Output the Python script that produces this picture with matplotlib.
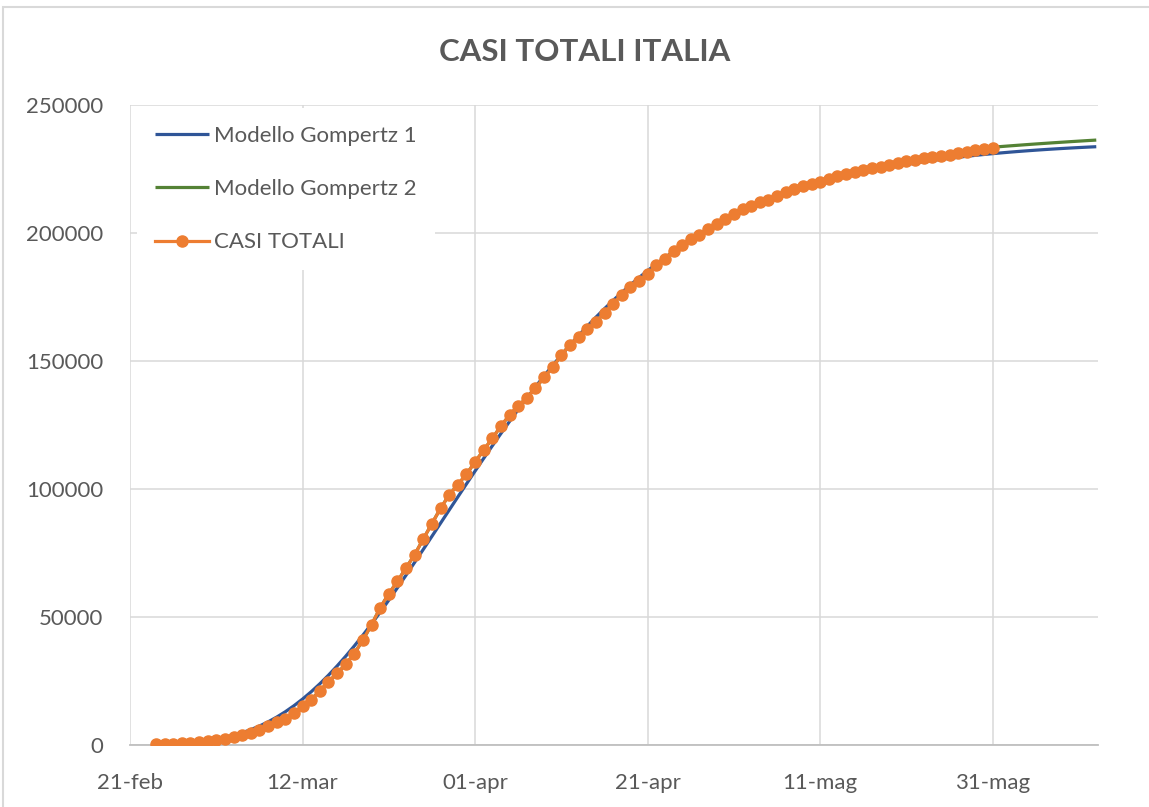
import numpy as np
import matplotlib
matplotlib.use("Agg")
import matplotlib.pyplot as plt
from matplotlib.patches import Rectangle

# x positions are day offsets from 21-feb-2020
casi_start = 3
casi_totali = [229, 322, 400, 650, 888, 1128,
    1694, 2036, 2502, 3089, 3858, 4636, 5883, 7375, 9172, 10149, 12462, 15113, 17660, 21157, 24747,
    27980, 31506, 35713, 41035, 47021, 53578, 59138, 63927, 69176, 74386, 80539, 86498, 92472, 97689,
    101739, 105792,
    110574, 115242, 119827, 124632, 128948, 132547, 135586, 139422, 143626, 147577, 152271, 156363,
    159516, 162488, 165155, 168941, 172434, 175925, 178972, 181228, 183957, 187327, 189973, 192994,
    195351, 197675, 199414, 201505, 203591, 205463,
    207428, 209328, 210717, 211938, 213013, 214457, 215858, 217185, 218268, 219070, 219814, 221216,
    222104, 223096, 223885, 224760, 225435, 225886, 226699, 227364, 228006, 228658, 229327, 229858,
    230158, 230555, 231139, 231732, 232248, 232664, 233019]

model_start = 3
gomp1 = [209, 313, 457, 654, 916, 1260, 1700, 2256, 2945, 3786, 4798, 5998, 7403, 9028, 10885, 12984,
    15333, 17934, 20790, 23897, 27249, 30840, 34657, 38686, 42913, 47320, 51888, 56597, 61428, 66358,
    71368, 76436, 81544, 86671, 91798, 96910, 101989, 107021, 111991, 116888, 121700, 126418, 131033,
    135538, 139926, 144193, 148334, 152347, 156230, 159981, 163599, 167084, 170438, 173662, 176757,
    179724, 182568, 185289, 187892, 190379, 192754, 195020, 197181, 199239, 201199, 203065, 204840,
    206527, 208130, 209653, 211099, 212471, 213772, 215006, 216177, 217285, 218336, 219331, 220273,
    221165, 222009, 222808, 223563, 224278, 224954, 225593, 226197, 226768, 227307, 227817, 228298,
    228753, 229183, 229589, 229972, 230334, 230675, 230998, 231302, 231590, 231861, 232117, 232359,
    232587, 232802, 233005, 233196, 233377, 233547, 233708]

gomp2 = [200, 300, 400, 700, 900, 1100, 1700, 2000, 2500, 3100, 3900, 4600, 5900, 7400, 9200, 10100,
    12500, 15100, 17700, 21200, 24700, 28000, 31500, 35700, 41000, 47000, 53600, 59100, 63900, 69200,
    74400, 80500, 86500, 92500, 97700, 101700, 105800, 110600, 115200, 119800, 124600, 128900, 132500,
    135600, 139400, 143600, 147600, 152300, 156400, 159500, 162500, 165200, 168900, 172400, 175900,
    179000, 181200, 184000, 187300, 190000, 193000, 195400, 197700, 199400, 201500, 203600, 205500,
    207400, 209300, 210700, 211900, 213000, 214500, 215900, 217200, 218300, 219100, 219800, 221200,
    222100, 223100, 223900, 224800, 225400, 225900, 226700, 227400, 228000, 228700, 229300, 229900,
    230200, 230600, 231100, 231700, 232300, 232900, 233500, 233780, 234040, 234290, 234540, 234780,
    235010, 235240, 235460, 235680, 235890, 236100, 236300]

x_ticks = [0, 20, 40, 60, 80, 100]
x_labels = ["21-feb", "12-mar", "01-apr", "21-apr", "11-mag", "31-mag"]
y_ticks = [0, 50000, 100000, 150000, 200000, 250000]

plt.rcParams['font.family'] = ['Lato', 'DejaVu Sans']
W, H = 1149, 807
fig = plt.figure(figsize=(W/100, H/100), dpi=100)
ax = fig.add_axes([130/W, 1-745/H, (1098-130)/W, (745-105)/H])

x_casi = np.arange(casi_start, casi_start+len(casi_totali))
x_g1 = np.arange(model_start, model_start+len(gomp1))
x_g2 = np.arange(model_start, model_start+len(gomp2))

l1, = ax.plot(x_g1, gomp1, color='#2F5597', lw=2.3, solid_capstyle='butt', zorder=3,
              label='Modello Gompertz 1')
l2, = ax.plot(x_g2, gomp2, color='#548235', lw=2.3, solid_capstyle='butt', zorder=4,
              label='Modello Gompertz 2')
l3, = ax.plot(x_casi, casi_totali, color='#ED7D31', lw=2.3, marker='o', ms=8, mec='#ED7D31',
              mfc='#ED7D31', zorder=5, label='CASI TOTALI')

ax.set_xlim(0, 112.2)
ax.set_ylim(0, 250000)
ax.set_xticks(x_ticks)
ax.set_xticklabels(x_labels)
ax.set_yticks(y_ticks)
ax.set_yticklabels([str(v) for v in y_ticks])
ax.grid(True, color='#d9d9d9', lw=1.1)
ax.set_axisbelow(True)
for s in ['top', 'right', 'left']:
    ax.spines[s].set_visible(False)
ax.spines['bottom'].set_color('#bfbfbf')
ax.spines['bottom'].set_linewidth(1.3)
ax.tick_params(axis='both', length=0, labelsize=16, labelcolor='#595959')
ax.tick_params(axis='y', pad=19)
ax.tick_params(axis='x', pad=20)

leg = fig.legend(handles=[l1, l2, l3], loc='upper left', bbox_to_anchor=(137/W, 1-108/H),
                 frameon=True, fancybox=False, edgecolor='none', facecolor='white', framealpha=1,
                 fontsize=16, handlelength=2.45, handletextpad=0.22, labelspacing=1.5,
                 borderaxespad=0, borderpad=0.8, numpoints=1, labelcolor='#595959')
leg.set_zorder(10)

fig.text(585/W, 1-52/H, 'CASI TOTALI ITALIA', ha='center', va='center', fontsize=22.5,
         fontweight='bold', color='#595959')

fig.patches.append(Rectangle((3/W, -0.05), 1.2, 1-7/H+0.05, transform=fig.transFigure,
                             fill=False, edgecolor='#d9d9d9', lw=1.5))

fig.savefig('out.png', dpi=100)
